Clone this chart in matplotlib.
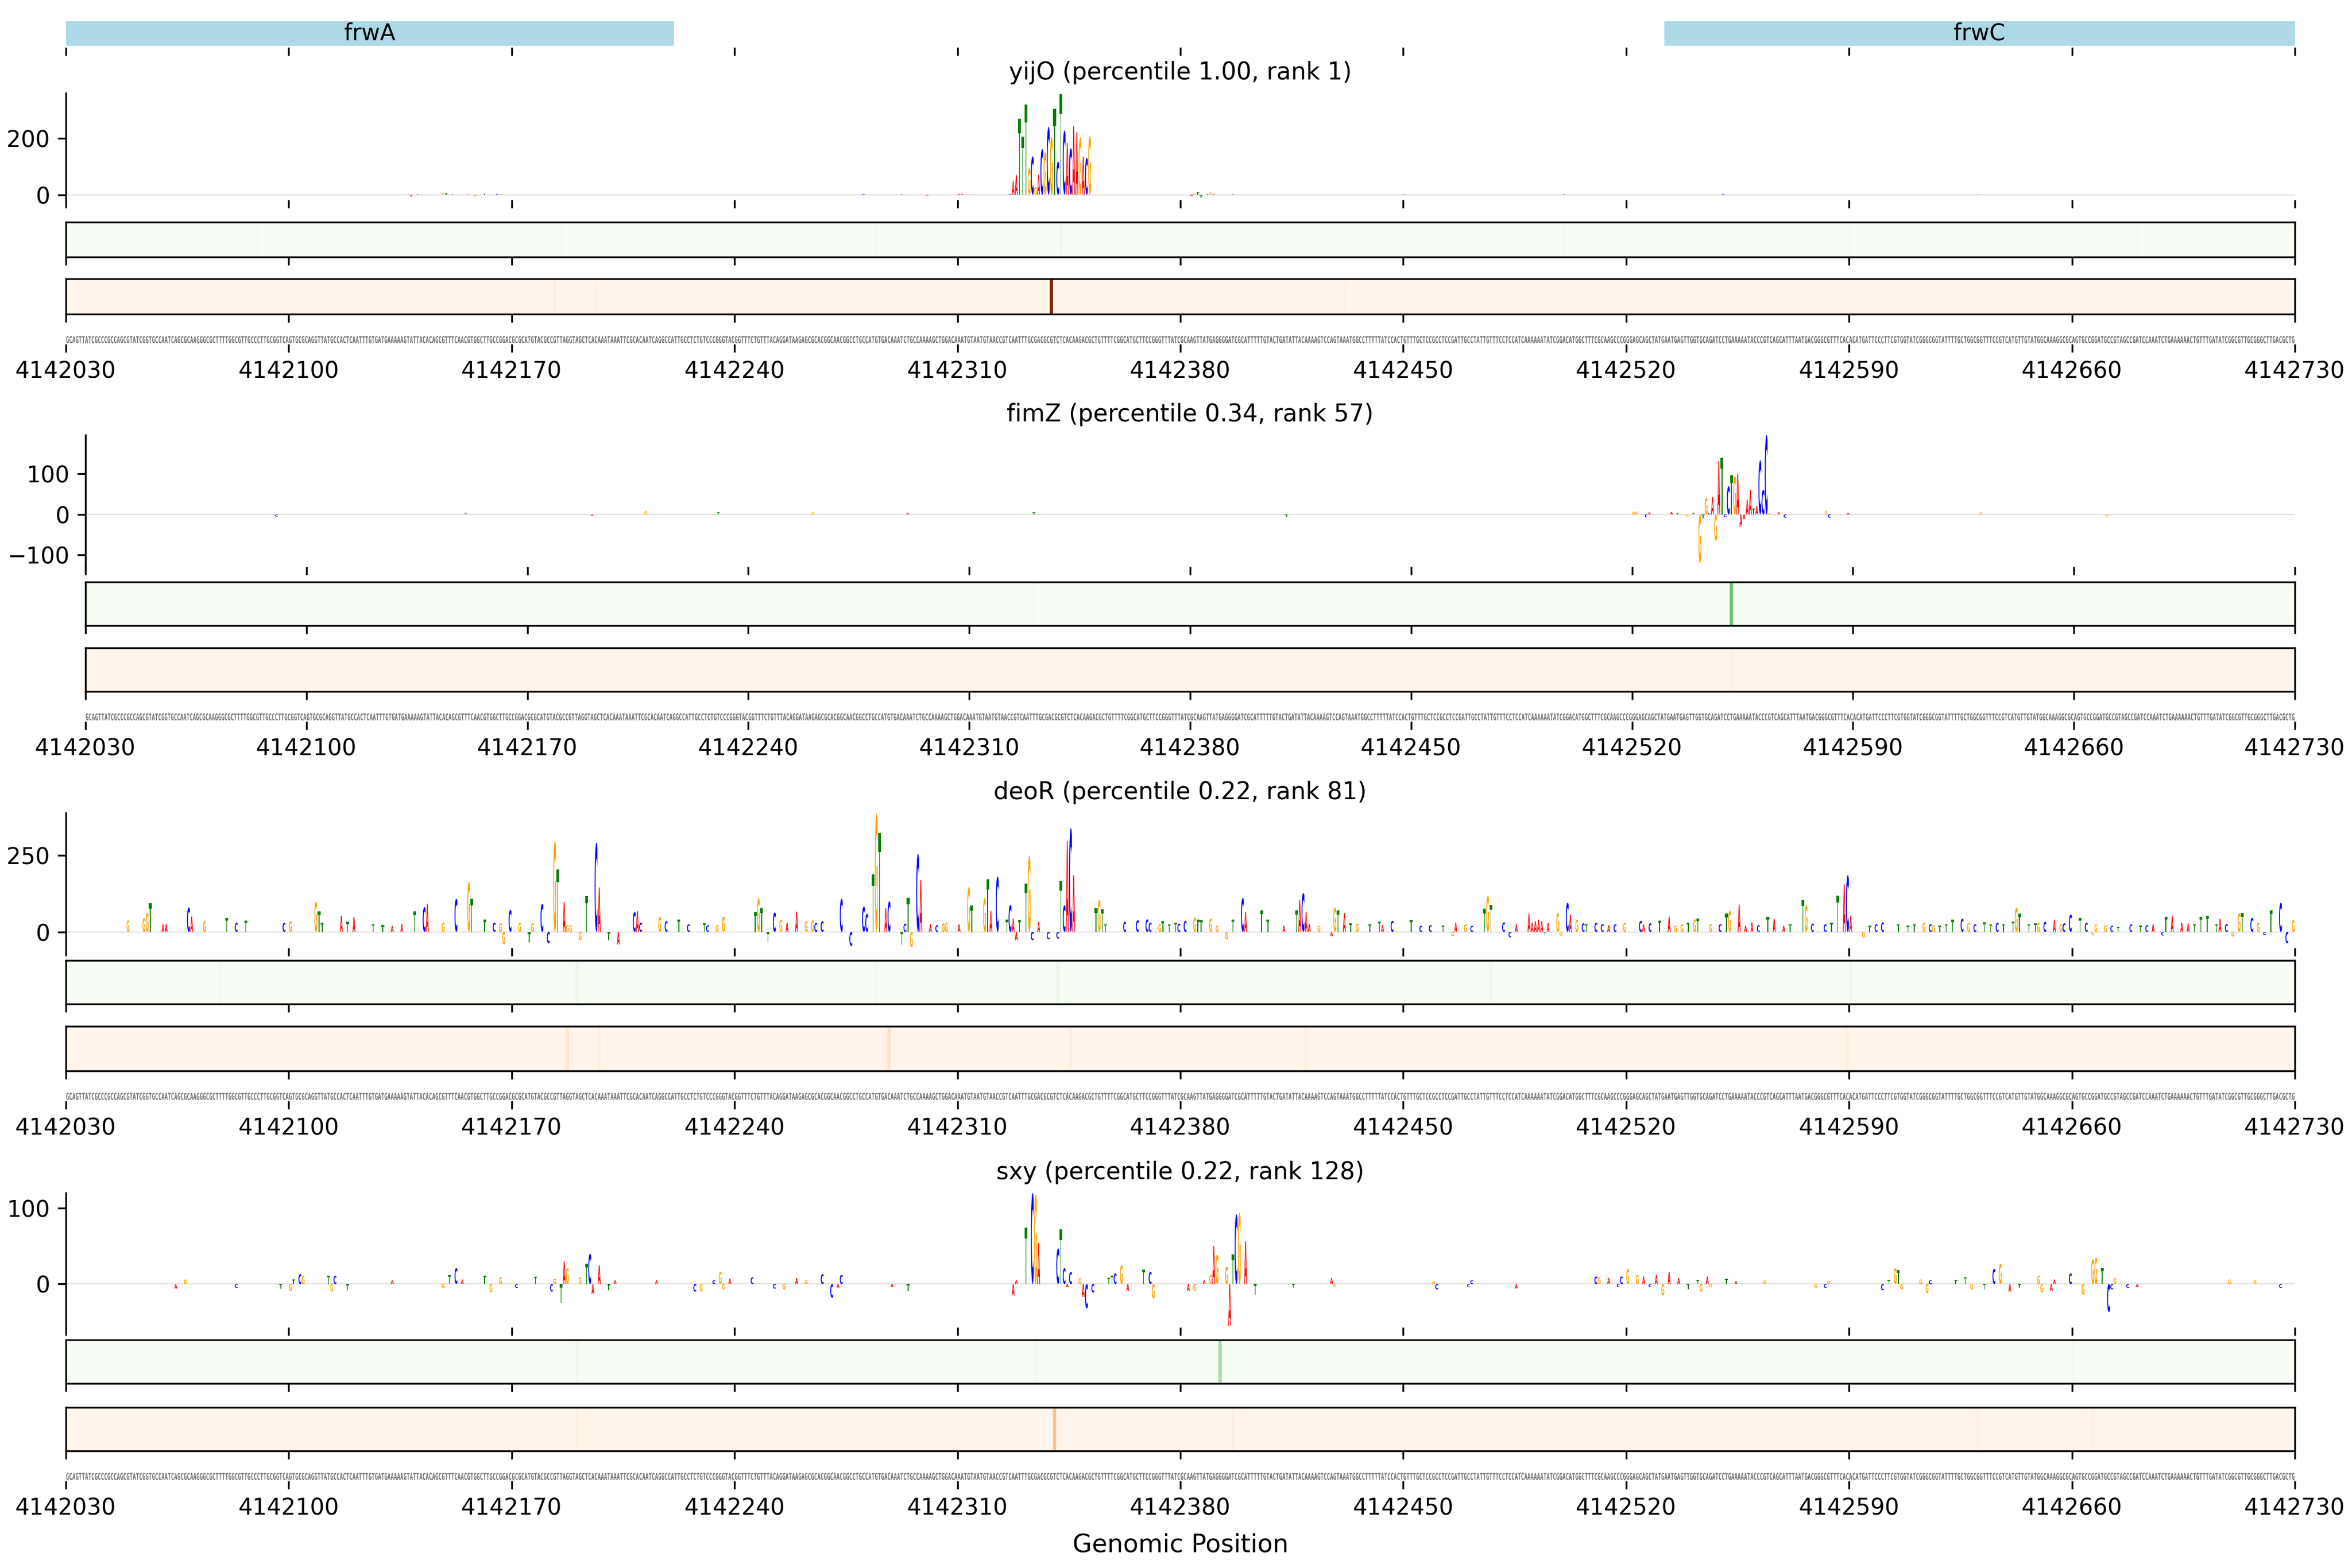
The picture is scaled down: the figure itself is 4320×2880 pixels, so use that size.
import numpy as np
import matplotlib
matplotlib.use("Agg")
import matplotlib.pyplot as plt
from matplotlib.textpath import TextPath
from matplotlib.font_manager import FontProperties
from matplotlib.patches import PathPatch, Rectangle
from matplotlib.path import Path
from matplotlib.patheffects import AbstractPathEffect
from matplotlib.transforms import Affine2D

# ---------------- data ----------------
START, END = 4142030, 4142730
TICKS = list(range(START, END + 1, 70))

SEQ = "".join([
    "GCAGTTATCGCCCGCCAGCGTATCGGTGCCAATCAGCGCAAGGGCGCTTTTGGCGTTGCCCTTGCGGTCA",
    "GTGCGCAGGTTATGCCACTCAATTTGTGATGAAAAAGTATTACACAGCGTTTCAACGTGGCTTGCCGGAC",
    "GCGCATGTACGCCGTTAGGTAGCTCACAAATAAATTCGCACAATCAGGCCATTGCCTCTGTCCCGGGTAC",
    "GGTTTCTGTTTACAGGATAAGAGCGCACGGCAACGGCCTGCCATGTGACAAATCTGCCAAAAGCTGGACA",
    "AATGTAATGTAACCGTCAATTTGCGACGCGTCTCACAAGACGCTGTTTTCGGCATGCTTCCGGGTTTATC",
    "GCAAGTTATGAGGGGATCGCATTTTTGTACTGATATTACAAAAGTCCAGTAAATGGCCTTTTTATCCACT",
    "GTTTGCTCCGCCTCCGATTGCCTATTGTTTCCTCCATCAAAAAATATCGGACATGGCTTTCGCAAGCCCG",
    "GGAGCAGCTATGAATGAGTTGGTGCAGATCCTGAAAAATACCCGTCAGCATTTAATGACGGGCGTTTCAC",
    "ACATGATTCCCTTCGTGGTATCGGGCGGTATTTTGCTGGCGGTTTCCGTCATGTTGTATGGCAAAGGCGC",
    "AGTGCCGGATGCCGTAGCCGATCCAAATCTGAAAAAACTGTTTGATATCGGCGTTGCGGGCTTGACGCTG",
])
assert len(SEQ) == END - START, len(SEQ)

GENE_NAMES = ["frwA", "frwC"]
GENE_STARTS = [4142030, 4142532]
GENE_ENDS = [4142221, 4142730]

TRACK_NAMES = ["yijO", "fimZ", "deoR", "sxy"]
TRACK_PERCENTILES = [1.00, 0.34, 0.22, 0.22]
TRACK_RANKS = [1, 57, 81, 128]

# attribution logos: (offset from START, value); letter comes from SEQ
YIJO_LOGO = [(107, 4), (108, -6), (110, 3), (118, 5), (119, 5), (121, 3), (126, 4),
             (128, -5), (131, 4), (135, 3), (136, 3), (250, 3), (262, 4), (270, -3),
             (280, 3), (281, 3), (283, 2), (296, 3), (297, 49), (298, 70), (299, 269),
             (300, 205), (301, 319), (302, 94), (303, 136), (304, 26), (305, 71),
             (306, 162), (307, 150), (308, 241), (309, 204), (310, 304), (311, 117),
             (312, 357), (313, 228), (314, 183), (315, 165), (316, 244), (317, 221),
             (318, 204), (319, 135), (320, 131), (321, 208), (353, -4), (354, 6),
             (355, 9), (356, -10), (358, 4), (359, 8), (360, 3), (366, 4), (420, 3),
             (470, 2), (520, 3), (600, 2)]

FIMZ_LOGO = [(60, -5), (120, 4), (160, -4), (177, 9), (200, 5), (230, 6), (260, 4),
             (300, 5), (380, -6), (490, 7), (491, 7), (494, -7), (495, 5), (502, 6),
             (504, 4), (507, -5), (509, 4), (511, -120), (512, -10), (513, 41),
             (514, 4), (515, 43), (516, -65), (517, 132), (518, 140), (519, -6),
             (520, 70), (521, 97), (522, 95), (523, 101), (524, -30), (525, -12),
             (526, 37), (527, 60), (528, 15), (529, 21), (530, 134), (531, 61),
             (532, 196), (533, 4), (536, 5), (538, -8), (551, 9), (552, -8), (558, 4),
             (600, 5), (640, -5)]

DEOR_LOGO = [(19, 38), (24, 45), (25, 62), (26, 93), (30, 25), (31, 25), (38, 80),
             (39, 50), (43, 35), (50, 46), (53, 30), (56, 37), (68, 30), (70, 35),
             (78, 99), (79, 67), (80, 30), (86, 53), (88, 33), (90, 49), (96, 25),
             (99, 22), (102, 20), (105, 25), (109, 67), (112, 81), (113, 92),
             (118, 30), (122, 108), (126, 163), (127, 107), (131, 40), (134, 30),
             (136, 28), (137, -40), (139, 72), (142, 30), (145, -35), (146, 28),
             (149, 92), (151, -37), (153, 297), (154, 203), (156, 98), (157, 22),
             (158, 22), (161, -27), (163, 117), (166, 291), (167, 145), (170, -27),
             (173, -41), (178, 65), (179, 68), (180, 30), (186, 49), (188, 35),
             (192, 41), (195, 25), (200, 28), (201, 22), (204, 22), (206, 50),
             (216, 65), (217, 110), (218, 77), (220, -35), (222, 63), (224, 40),
             (226, 30), (229, 66), (232, 35), (234, 38), (235, 30), (237, 35),
             (243, 108), (246, -46), (250, 83), (251, 59), (253, 187), (254, 387),
             (255, 323), (257, 77), (258, 100), (262, -41), (263, 27), (264, 111),
             (265, -49), (267, 255), (268, 169), (271, 25), (273, 22), (275, 28),
             (276, 30), (280, 25), (283, 147), (284, 86), (288, 111), (289, 171),
             (290, 68), (292, 181), (295, 40), (296, 88), (297, 44), (298, -27),
             (299, 38), (301, 157), (302, 249), (303, -27), (305, 33), (308, -24),
             (311, -22), (312, 166), (313, 87), (314, 296), (315, 339), (316, 184),
             (323, 77), (324, 104), (325, 74), (326, 25), (332, 33), (336, 38),
             (339, 41), (340, 30), (343, 25), (344, 35), (346, 25), (348, 30),
             (349, 27), (351, 36), (354, 46), (355, 41), (356, 38), (359, 44),
             (361, 20), (364, -24), (366, 41), (369, 111), (370, 65), (375, 71),
             (377, 41), (382, 20), (386, 70), (387, 105), (388, 127), (389, 65),
             (390, 25), (393, 20), (397, -14), (398, 80), (399, 70), (401, 62),
             (403, 28), (405, 27), (409, 25), (412, 34), (413, 22), (416, 36),
             (422, 38), (425, 20), (428, 22), (432, 21), (435, -14), (436, 30),
             (439, 25), (441, 20), (445, 75), (446, 118), (447, 89), (451, 31),
             (453, -18), (455, 25), (459, 59), (460, 30), (461, 35), (462, 40),
             (463, 35), (464, -12), (465, 30), (468, 62), (469, -12), (471, 95),
             (472, 56), (474, 40), (476, 28), (477, 25), (480, 30), (482, 25),
             (484, 22), (486, 25), (489, 30), (494, 36), (495, 25), (497, 28),
             (500, 37), (503, 50), (505, 20), (507, 25), (509, 30), (511, 41),
             (512, 43), (516, 25), (519, 25), (521, 59), (522, 69), (525, 89),
             (527, 20), (529, 30), (531, 22), (534, 50), (536, 43), (539, 20),
             (541, 25), (545, 105), (546, 87), (548, 27), (552, 25), (554, 30),
             (556, 118), (558, 155), (559, 185), (560, 53), (564, -18), (566, 20),
             (568, 25), (570, 31), (575, 25), (578, 20), (580, 25), (583, 30),
             (585, 25), (586, 22), (588, 20), (590, 25), (592, 40), (595, 43),
             (597, 30), (599, 25), (602, 31), (604, 25), (606, 30), (608, 25),
             (611, 34), (612, 79), (613, 59), (616, 25), (618, 28), (619, 30),
             (621, 33), (624, 40), (626, 25), (627, 28), (629, 57), (632, 46),
             (634, 30), (636, -10), (637, 25), (640, 22), (642, 20), (644, 18),
             (648, 25), (651, 20), (653, 22), (655, 25), (658, -12), (659, 49),
             (661, 52), (664, 30), (666, 28), (668, 25), (670, 50), (672, 53),
             (675, 25), (676, 43), (678, 25), (680, -15), (682, 62), (683, 61),
             (686, 46), (688, 30), (690, -10), (692, 71), (695, 95), (697, -37),
             (699, 38)]

SXY_LOGO = [(34, -6), (37, 6), (53, -5), (67, -6), (70, -9), (71, 6), (73, 13),
            (74, 11), (82, 11), (83, -10), (84, 11), (88, -8), (102, 5), (118, -5),
            (120, 12), (122, 21), (124, 6), (131, 11), (133, -11), (136, 9),
            (141, -5), (147, 10), (152, -10), (153, 7), (155, -25), (156, 30),
            (157, 21), (161, 9), (163, 27), (164, 40), (165, -13), (167, 25),
            (170, -8), (172, 5), (185, 5), (197, -10), (199, -10), (203, 5),
            (205, 16), (206, -7), (208, 7), (215, 9), (222, -6), (225, -7), (229, 8),
            (232, 5), (237, 13), (240, -18), (242, -5), (243, 12), (259, -4),
            (264, -9), (297, -15), (298, 5), (301, 74), (303, 120), (304, 118),
            (305, 54), (311, 47), (312, 72), (313, 21), (314, -4), (315, 16),
            (318, 8), (319, -17), (320, -32), (322, -11), (327, 8), (328, 11),
            (329, 14), (331, 25), (333, -9), (338, 19), (340, 16), (341, -19),
            (352, -9), (354, -9), (357, 5), (359, 12), (360, 50), (361, 39),
            (364, 23), (365, -55), (366, 39), (367, 92), (368, 94), (370, 56),
            (373, -14), (385, -5), (397, 8), (398, -4), (429, 4), (430, -7),
            (440, -4), (441, 5), (455, -6), (480, 10), (481, 9), (484, 8), (487, -4),
            (488, 10), (490, 20), (493, 12), (495, 10), (497, -4), (499, 12),
            (501, -15), (503, 16), (506, 8), (509, -7), (512, 5), (513, -10),
            (515, 10), (516, -4), (521, 7), (524, 4), (533, 5), (549, -5), (552, -5),
            (553, 4), (570, -8), (572, 5), (574, 21), (575, 18), (576, -7), (582, 6),
            (584, -12), (585, 5), (593, 5), (596, 9), (598, -7), (602, -7), (605, 20),
            (607, 27), (610, -10), (613, -5), (619, 11), (620, -11), (623, -9),
            (624, 6), (629, 14), (633, -14), (636, 33), (637, 35), (639, 21),
            (641, -37), (642, -7), (643, 8), (647, -5), (650, -4), (679, 6),
            (687, 5), (695, -5)]

# per-position heat strips (offset, intensity 0..1)
YIJO_GREEN = [(60, 0.02), (155, 0.03), (254, 0.03), (312, 0.04), (470, 0.03), (560, 0.02), (650, 0.02)]
YIJO_ORANGE = [(153, 0.03), (166, 0.02), (309, 1.0), (401, 0.02)]
FIMZ_GREEN = [(300, 0.02), (521, 0.5)]
FIMZ_ORANGE = [(521, 0.02)]
DEOR_GREEN = [(48, 0.04), (160, 0.08), (254, 0.05), (311, 0.1), (447, 0.04), (560, 0.05)]
DEOR_ORANGE = [(157, 0.12), (167, 0.05), (258, 0.15), (315, 0.06), (389, 0.04), (559, 0.05)]
SXY_GREEN = [(160, 0.06), (304, 0.04), (362, 0.35), (630, 0.05)]
SXY_ORANGE = [(160, 0.05), (310, 0.3), (366, 0.06), (600, 0.04), (636, 0.05)]

LOGOS = [YIJO_LOGO, FIMZ_LOGO, DEOR_LOGO, SXY_LOGO]
GREENS = [YIJO_GREEN, FIMZ_GREEN, DEOR_GREEN, SXY_GREEN]
ORANGES = [YIJO_ORANGE, FIMZ_ORANGE, DEOR_ORANGE, SXY_ORANGE]
YTICKS = [[0, 200], [-100, 0, 100], [0, 250], [0, 100]]
YLIMS = [(-18, 360), (-129, 196), (-52, 388), (-57, 120)]

# ---------------- styling / layout (pixels of the 4320x2880 canvas) ----------------
BASE_COLORS = {"A": "#ff0000", "C": "#0000ff", "G": "#ffa500", "T": "#008000"}
LETTER_W = 0.88
W, H = 4320, 2880
DPI = 300
RIGHT = 4215
SEQ_CAP_PX = 12.5
LAYOUT = [
    dict(left=121, logo=(171, 367), green=(408, 472), orange=(512, 577), seq=(612, 632)),
    dict(left=157, logo=(799, 1041), green=(1069, 1149), orange=(1190, 1270), seq=(1305, 1325)),
    dict(left=121, logo=(1493, 1741), green=(1764, 1844), orange=(1885, 1967), seq=(2002, 2022)),
    dict(left=121, logo=(2191, 2438), green=(2461, 2541), orange=(2585, 2665), seq=(2700, 2720)),
]

plt.rcParams["font.family"] = ["DejaVu Sans"]
plt.rcParams["font.size"] = 10

fig = plt.figure(figsize=(W / DPI, H / DPI), dpi=DPI)


def add_ax(left, top, bottom, right=RIGHT):
    return fig.add_axes([left / W, 1 - bottom / H, (right - left) / W, (bottom - top) / H])


def x_setup(ax, labels=False):
    ax.set_xlim(START, END)
    ax.set_xticks(TICKS)
    if labels:
        ax.set_xticklabels([str(t) for t in TICKS])
    else:
        ax.set_xticklabels([])


_GLYPHS = {}


def glyph(letter):
    if letter not in _GLYPHS:
        tp = TextPath((0, 0), letter, size=1,
                      prop=FontProperties(family="DejaVu Sans", weight="bold"))
        ext = tp.get_extents()
        v = (tp.vertices - [ext.x0, ext.y0]) / [ext.width, ext.height]
        _GLYPHS[letter] = (v, tp.codes)
    return _GLYPHS[letter]


def draw_logo(ax, pairs):
    ax.axhline(0, color="#e2dede", lw=0.5, zorder=0)
    for off, val in pairs:
        letter = SEQ[off]
        v, codes = glyph(letter)
        xs = START + off + (1 - LETTER_W) / 2 + v[:, 0] * LETTER_W
        if val >= 0:
            ys = v[:, 1] * val
        else:
            ys = val + v[:, 1] * (-val)
        ax.add_patch(PathPatch(Path(np.column_stack([xs, ys]), codes),
                               facecolor=BASE_COLORS[letter], edgecolor="none", lw=0))


def draw_heat(ax, pairs, cmap):
    arr = np.zeros(END - START)
    for off, val in pairs:
        arr[off] = val
    ax.imshow(arr[None, :], aspect="auto", cmap=cmap, vmin=0, vmax=1,
              extent=[START, END, 0, 1], interpolation="nearest")
    ax.set_ylim(0, 1)
    ax.set_yticks([])
    x_setup(ax)


class FitSeq(AbstractPathEffect):
    """Fit a one-line monospace text to the axes width and stretch it to a fixed cap height."""

    def __init__(self, ax, n, cap_px):
        super().__init__()
        self.ax = ax
        self.n = n
        self.cap_px = cap_px

    def draw_path(self, renderer, gc, tpath, affine, rgbFace=None):
        m = affine.get_matrix()
        ext = tpath.get_extents()
        target = self.ax.bbox.width * (self.n - 0.1) / self.n
        sx = target / (ext.x1 * abs(m[0, 0]))
        sy = self.cap_px / (72.9 * abs(m[1, 1]))
        renderer.draw_path(gc, tpath, Affine2D().scale(sx, sy) + affine, rgbFace)


# ---------------- gene track ----------------
gax = add_ax(121, 39, 87)
for name, s, e in zip(GENE_NAMES, GENE_STARTS, GENE_ENDS):
    gax.add_patch(Rectangle((s, 0.0625), e - s, 0.9375, facecolor="lightblue", edgecolor="none"))
    gax.text((s + e) / 2, 0.53, name, ha="center", va="center", fontsize=10)
gax.set_ylim(0, 1)
gax.set_yticks([])
x_setup(gax)
for sp in gax.spines.values():
    sp.set_visible(False)

# ---------------- panels ----------------
for k in range(4):
    L = LAYOUT[k]
    lax = add_ax(L["left"], *L["logo"])
    draw_logo(lax, LOGOS[k])
    lax.set_ylim(*YLIMS[k])
    lax.set_yticks(YTICKS[k])
    x_setup(lax)
    for s in ("top", "right", "bottom"):
        lax.spines[s].set_visible(False)
    lax.set_title(f"{TRACK_NAMES[k]} (percentile {TRACK_PERCENTILES[k]:.2f}, rank {TRACK_RANKS[k]})",
                  fontsize=10.5, pad=6)

    gr = add_ax(L["left"], *L["green"])
    draw_heat(gr, GREENS[k], "Greens")
    orr = add_ax(L["left"], *L["orange"])
    draw_heat(orr, ORANGES[k], "Oranges")

    sax = add_ax(L["left"], *L["seq"])
    sax.set_ylim(0, 1)
    sax.set_yticks([])
    x_setup(sax, labels=True)
    for sp in sax.spines.values():
        sp.set_visible(False)
    # nominal size chosen so that the monospace line already spans the axes width
    width_px = RIGHT - L["left"]
    fs = width_px / (len(SEQ) * 0.60205) * 72 / DPI
    t = sax.text(START, 0.1, SEQ, ha="left", va="baseline", fontsize=fs,
                 family="DejaVu Sans Mono", weight="bold", color="#707070")
    t.set_path_effects([FitSeq(sax, len(SEQ), SEQ_CAP_PX)])

fig.text((121 + RIGHT) / 2 / W, 1 - 2838 / H, "Genomic Position", ha="center", va="center",
         fontsize=11)

fig.savefig("out.png", dpi=DPI)
